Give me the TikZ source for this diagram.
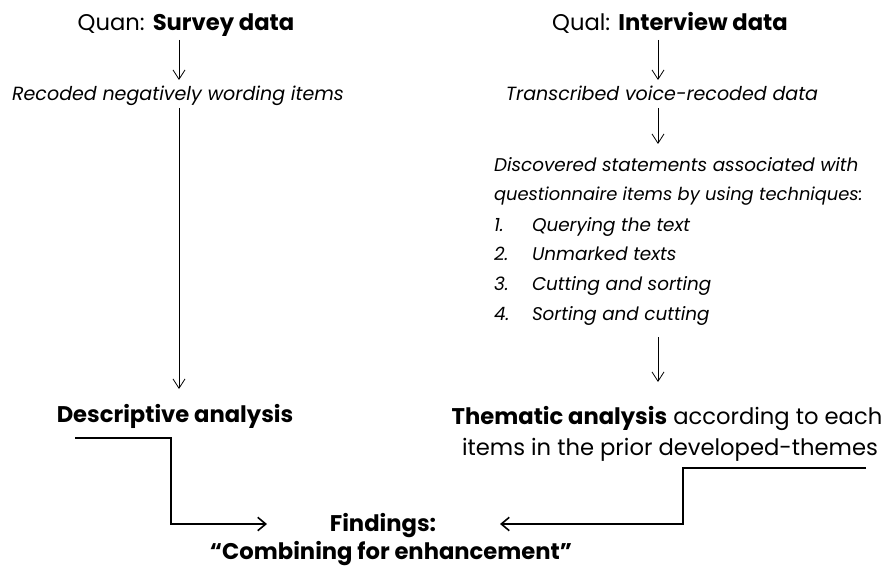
\documentclass[tikz,border=0pt]{standalone}
\usepackage{fontspec}
\setmainfont{Poppins}
\usetikzlibrary{arrows.meta}
\begin{document}
\begin{tikzpicture}[x=0.75pt,y=-0.75pt,
  txt/.style={inner sep=0pt,outer sep=0pt,font=\fontsize{17}{20}\selectfont},
  itx/.style={txt,font=\fontsize{14.3}{18}\selectfont\itshape},
  lst/.style={txt,anchor=base west,font=\fontsize{13.8}{18}\selectfont\itshape},
  thin/.style={line width=0.75pt,-{Straight Barb[length=7pt,width=9pt,line width=0.6pt]}},
  thick/.style={line width=1.5pt,-{Straight Barb[length=6pt,width=10pt,line width=1.2pt]}}]
\useasboundingbox (0,0) rectangle (884,570);
% left column
\node[txt,anchor=base] (quan) at (186,31) {Quan: \textbf{Survey data}};
\node[itx,anchor=base] (rec) at (178,101) {Recoded negatively wording items};
\node[txt,anchor=base] (desc) at (175,422) {\textbf{Descriptive analysis}};
% right column
\node[txt,anchor=base] (qual) at (670,31) {Qual: \textbf{Interview data}};
\node[itx,anchor=base] (trans) at (662,101) {Transcribed voice-recoded data};
\node[lst] (d1) at (494,172) {Discovered statements associated with};
\node[lst,font=\fontsize{13.4}{18}\selectfont\itshape] (d2) at (494,201) {questionnaire items by using techniques:};
\node[lst] (n1) at (494,231) {1.};
\node[lst] (t1) at (532,231) {Querying the text};
\node[lst] (n2) at (494,260) {2.};
\node[lst] (t2) at (532,260) {Unmarked texts};
\node[lst] (n3) at (494,290) {3.};
\node[lst] (t3) at (532,290) {Cutting and sorting};
\node[lst] (n4) at (494,320) {4.};
\node[lst] (t4) at (532,320) {Sorting and cutting};
\node[txt,anchor=base] (them) at (667,424) {\textbf{Thematic analysis} according to each};
\node[txt,anchor=base] (them2) at (670,455) {items in the prior developed-themes};
% findings
\node[txt,anchor=base] (find) at (383,531) {\textbf{Findings:}};
\node[txt,anchor=base] (comb) at (391,559) {\textbf{“Combining for enhancement”}};
% coordinates
\coordinate (a1s) at (179,40); \coordinate (a1e) at (179,80);
\coordinate (a2s) at (179,108); \coordinate (a2e) at (179,389);
\coordinate (b1s) at (658,40); \coordinate (b1e) at (658,80);
\coordinate (b2s) at (658,108); \coordinate (b2e) at (658,144);
\coordinate (b3s) at (658,337); \coordinate (b3e) at (658,382);
\coordinate (lc) at (75,438); \coordinate (lce) at (267,524);
\coordinate (rc) at (866,468); \coordinate (rce) at (500,524);
\draw[thin] (a1s) -- (a1e);
\draw[thin] (a2s) -- (a2e);
\draw[thin] (b1s) -- (b1e);
\draw[thin] (b2s) -- (b2e);
\draw[thin] (b3s) -- (b3e);
\draw[thick] (lc) -- (171,438) -- (171,524) -- (lce);
\draw[thick] (rc) -- (683,468) -- (683,524) -- (rce);
\end{tikzpicture}
\end{document}
